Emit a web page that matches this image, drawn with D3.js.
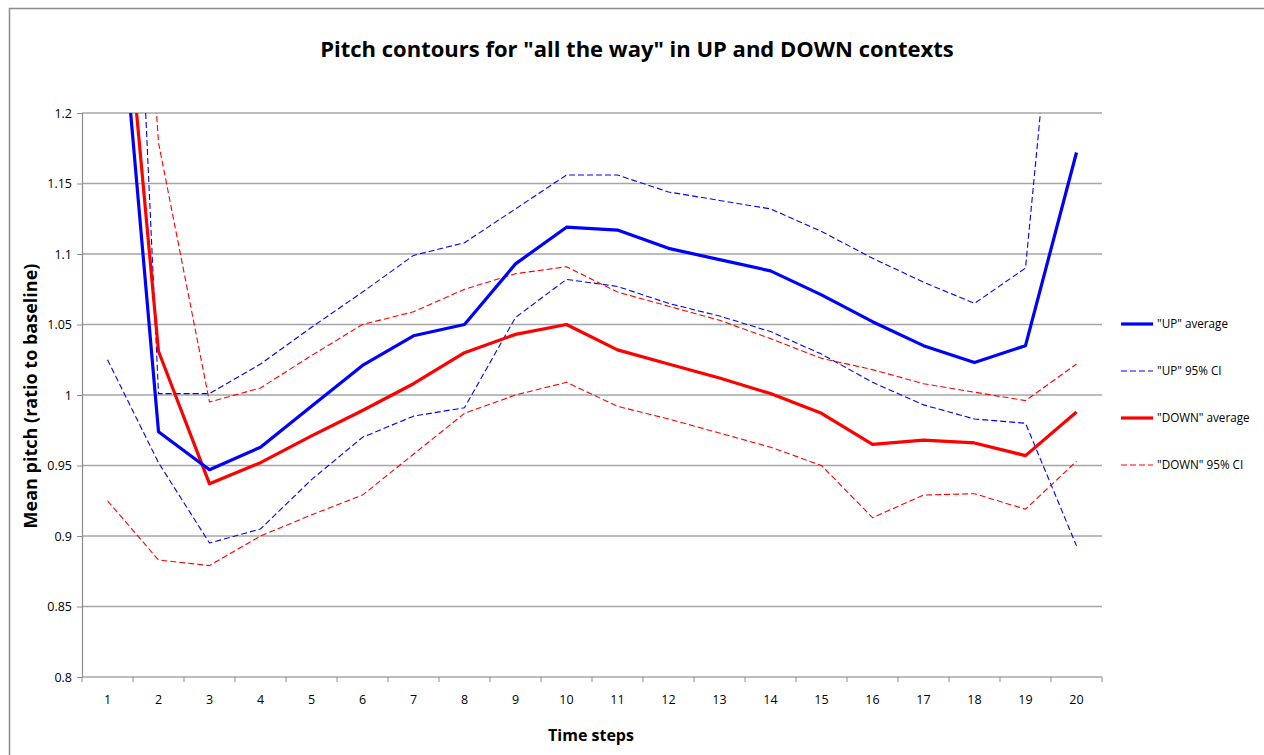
<!DOCTYPE html>
<html>
<head>
<meta charset="utf-8">
<script src="https://cdn.jsdelivr.net/npm/d3@7"></script>
<style>
  html, body { margin: 0; padding: 0; background: #fff; }
  svg { display: block; font-family: "Open Sans", Lato, sans-serif; }
</style>
</head>
<body>
<div id="chart"></div>
<script>
// time steps along the x axis
var steps = ['1', '2', '3', '4', '5', '6', '7', '8', '9', '10',
             '11', '12', '13', '14', '15', '16', '17', '18', '19', '20'];
var yTicks = [0.8, 0.85, 0.9, 0.95, 1, 1.05, 1.1, 1.15, 1.2];

// (first points run off the top of the plot)
var upAverage   = [1.388, 0.974, 0.947, 0.963, 0.992, 1.021, 1.042, 1.050, 1.093, 1.119,
                   1.117, 1.104, 1.096, 1.088, 1.071, 1.052, 1.035, 1.023, 1.035, 1.172];
var upCIHigh    = [1.793, 1.001, 1.001, 1.022, 1.048, 1.073, 1.099, 1.108, 1.132, 1.156,
                   1.156, 1.144, 1.138, 1.132, 1.116, 1.097, 1.080, 1.065, 1.090, 1.467];
var upCILow     = [1.025, 0.952, 0.895, 0.905, 0.940, 0.970, 0.985, 0.991, 1.055, 1.082,
                   1.077, 1.065, 1.056, 1.045, 1.029, 1.009, 0.993, 0.983, 0.980, 0.893];
var downAverage = [1.424, 1.031, 0.937, 0.952, 0.971, 0.989, 1.008, 1.030, 1.043, 1.050,
                   1.032, 1.022, 1.012, 1.001, 0.987, 0.965, 0.968, 0.966, 0.957, 0.988];
var downCIHigh  = [1.720, 1.179, 0.995, 1.005, 1.028, 1.050, 1.059, 1.075, 1.086, 1.091,
                   1.073, 1.063, 1.053, 1.040, 1.026, 1.018, 1.008, 1.002, 0.996, 1.022];
var downCILow   = [0.925, 0.883, 0.879, 0.900, 0.915, 0.929, 0.958, 0.987, 1.000, 1.009,
                   0.992, 0.983, 0.973, 0.963, 0.950, 0.913, 0.929, 0.930, 0.919, 0.953];

var seriesNames = ['"UP" average', '"UP" 95% CI', '"DOWN" average', '"DOWN" 95% CI'];

(function () {
    'use strict';

    var width = 1264, height = 755;
    var plot = { left: 82, right: 1102, top: 113, bottom: 677 };
    var gridColor = '#a6a6a6';

    var svg = d3.select('#chart').append('svg')
        .attr('width', width)
        .attr('height', height);

    // outer chart frame, cut off at the right and bottom of the page
    svg.append('rect')
        .attr('x', 9.5).attr('y', 8.5)
        .attr('width', 1300).attr('height', 800)
        .attr('fill', '#fff')
        .attr('stroke', '#8c8c8c')
        .attr('stroke-width', 1.5);

    var x = d3.scaleBand().domain(steps).range([plot.left, plot.right]).paddingInner(0).paddingOuter(0);
    var y = d3.scaleLinear().domain([0.8, 1.2]).range([plot.bottom, plot.top]);
    function cx(i) { return x(steps[i]) + x.bandwidth() / 2; }

    // horizontal gridlines
    svg.append('g').selectAll('line')
        .data(yTicks.filter(function (d) { return d > 0.8; }))
        .join('line')
        .attr('x1', plot.left).attr('x2', plot.right)
        .attr('y1', function (d) { return y(d); })
        .attr('y2', function (d) { return y(d); })
        .attr('stroke', gridColor)
        .attr('stroke-width', 1.5);

    // y axis
    var yAxis = d3.axisLeft(y)
        .tickValues(yTicks)
        .tickSize(5)
        .tickPadding(5)
        .tickFormat(function (d) { return String(+d.toFixed(2)); });
    var gy = svg.append('g')
        .attr('transform', 'translate(' + plot.left + ',0)')
        .call(yAxis);
    gy.select('.domain').attr('stroke', '#8c8c8c').attr('stroke-width', 1.2);
    gy.selectAll('.tick line').attr('stroke', '#8c8c8c');
    gy.selectAll('text')
        .attr('font-size', 12.5)
        .attr('font-family', '"Open Sans", Lato, sans-serif')
        .attr('fill', '#000');

    // x axis: line, boundary ticks, centred labels
    var gx = svg.append('g');
    gx.append('line')
        .attr('x1', plot.left).attr('x2', plot.right)
        .attr('y1', plot.bottom).attr('y2', plot.bottom)
        .attr('stroke', gridColor).attr('stroke-width', 1.5);
    var bounds = steps.map(function (s) { return x(s); }).concat([plot.right]);
    gx.selectAll('line.tick')
        .data(bounds)
        .join('line')
        .attr('class', 'tick')
        .attr('x1', function (d) { return d; })
        .attr('x2', function (d) { return d; })
        .attr('y1', plot.bottom)
        .attr('y2', plot.bottom + 5)
        .attr('stroke', '#8c8c8c');
    gx.selectAll('text')
        .data(steps)
        .join('text')
        .attr('x', function (d, i) { return cx(i); })
        .attr('y', plot.bottom + 27)
        .attr('text-anchor', 'middle')
        .attr('font-size', 12.5)
        .text(function (d) { return d; });

    // series
    var series = [
        { values: upCIHigh,    color: '#0000ff', width: 1.1, dash: '6,3' },
        { values: upCILow,     color: '#0000ff', width: 1.1, dash: '6,3' },
        { values: downCIHigh,  color: '#ff0000', width: 1.1, dash: '6,3' },
        { values: downCILow,   color: '#ff0000', width: 1.1, dash: '6,3' },
        { values: downAverage, color: '#ff0000', width: 3.2, dash: null },
        { values: upAverage,   color: '#0000ff', width: 3.2, dash: null }
    ];

    svg.append('clipPath').attr('id', 'plot-clip')
        .append('rect')
        .attr('x', plot.left).attr('y', plot.top)
        .attr('width', plot.right - plot.left)
        .attr('height', plot.bottom - plot.top);

    var line = d3.line()
        .x(function (d, i) { return cx(i); })
        .y(function (d) { return y(d); });

    svg.append('g').attr('clip-path', 'url(#plot-clip)')
        .selectAll('path')
        .data(series)
        .join('path')
        .attr('d', function (s) { return line(s.values); })
        .attr('fill', 'none')
        .attr('stroke', function (s) { return s.color; })
        .attr('stroke-width', function (s) { return s.width; })
        .attr('stroke-dasharray', function (s) { return s.dash; })
        .attr('stroke-linejoin', 'round');

    // legend
    var legendItems = [
        { name: seriesNames[0], color: '#0000ff', width: 3.2, dash: null },
        { name: seriesNames[1], color: '#0000ff', width: 1.1, dash: '6,3' },
        { name: seriesNames[2], color: '#ff0000', width: 3.2, dash: null },
        { name: seriesNames[3], color: '#ff0000', width: 1.1, dash: '6,3' }
    ];
    var legend = svg.append('g').attr('transform', 'translate(1121,324)');
    var item = legend.selectAll('g')
        .data(legendItems)
        .join('g')
        .attr('transform', function (d, i) { return 'translate(0,' + (i * 47) + ')'; });
    item.append('line')
        .attr('x1', 0).attr('x2', 32)
        .attr('stroke', function (d) { return d.color; })
        .attr('stroke-width', function (d) { return d.width; })
        .attr('stroke-dasharray', function (d) { return d.dash; });
    item.append('text')
        .attr('x', 36)
        .attr('y', 4)
        .attr('font-size', 11.7)
        .text(function (d) { return d.name; });

    // titles
    svg.append('text')
        .attr('x', 637).attr('y', 57)
        .attr('text-anchor', 'middle')
        .attr('font-size', 22)
        .attr('font-weight', 'bold')
        .text('Pitch contours for "all the way" in UP and DOWN contexts');

    svg.append('text')
        .attr('x', 591).attr('y', 741)
        .attr('text-anchor', 'middle')
        .attr('font-size', 16)
        .attr('font-weight', 'bold')
        .text('Time steps');

    svg.append('text')
        .attr('transform', 'translate(37,396) rotate(-90)')
        .attr('text-anchor', 'middle')
        .attr('font-size', 18)
        .attr('font-weight', 'bold')
        .text('Mean pitch (ratio to baseline)');
})();
</script>
</body>
</html>
